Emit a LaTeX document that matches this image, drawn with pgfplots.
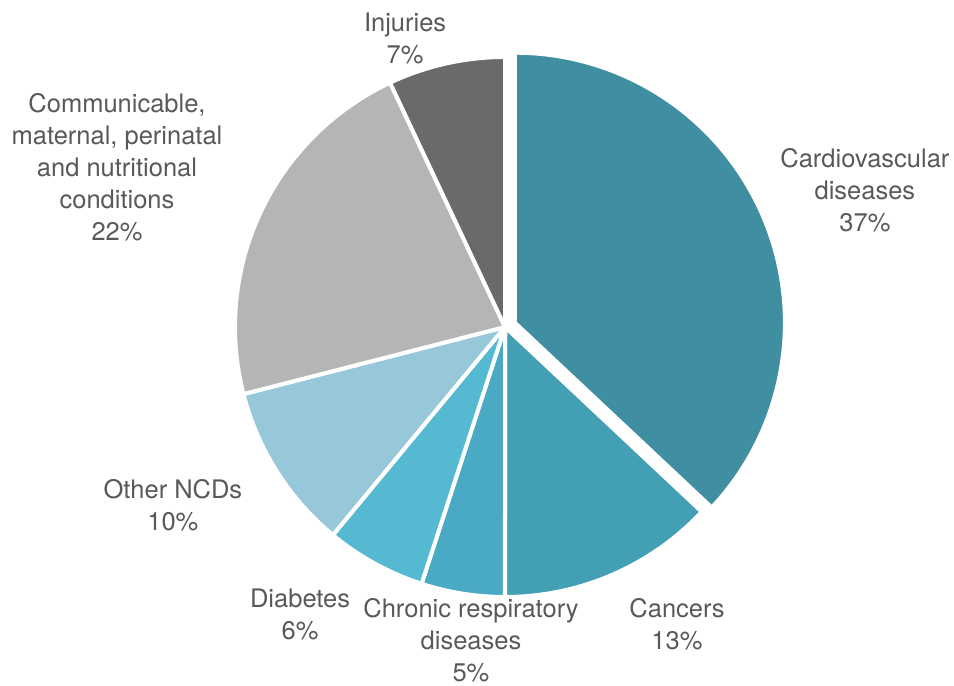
\documentclass[border=0pt]{standalone}
\usepackage{pgfplots}
\pgfplotsset{compat=1.18}
\usepackage{pgfplotstable}
\usepackage{fontspec}
\setmainfont{TeX Gyre Heros}
\definecolor{cCardio}{HTML}{408EA1}
\definecolor{cCancer}{HTML}{429FB4}
\definecolor{cChronic}{HTML}{4AAAC3}
\definecolor{cDiab}{HTML}{56B9D2}
\definecolor{cOther}{HTML}{96C8DA}
\definecolor{cComm}{HTML}{B4B5B5}
\definecolor{cInj}{HTML}{6A6A6A}
\definecolor{txt}{HTML}{595959}

\pgfplotstableread[col sep=comma]{
label,value
Cardiovascular diseases,37
Cancers,13
Chronic respiratory diseases,5
Diabetes,6
Other NCDs,10
Communicable maternal perinatal and nutritional conditions,22
Injuries,7
}\piedata

\newcommand\getval[2]{\pgfplotstablegetelem{#1}{value}\of\piedata\global\let#2\pgfplotsretval}
\tikzset{lbl/.style={font=\fontsize{25.5bp}{32bp}\selectfont, text=txt, align=center, inner sep=0pt}}

\begin{document}
\begin{tikzpicture}
\getval{0}\vA \getval{1}\vB \getval{2}\vC \getval{3}\vD
\getval{4}\vE \getval{5}\vF \getval{6}\vG
\pgfmathsetmacro\sA{90}
\pgfmathsetmacro\eA{\sA-3.6*\vA}
\pgfmathsetmacro\eB{\eA-3.6*\vB}
\pgfmathsetmacro\eC{\eB-3.6*\vC}
\pgfmathsetmacro\eD{\eC-3.6*\vD}
\pgfmathsetmacro\eE{\eD-3.6*\vE}
\pgfmathsetmacro\eF{\eE-3.6*\vF}
\pgfmathsetmacro\eG{\eF-3.6*\vG}
\pgfmathsetmacro\ox{0.04*cos((\sA+\eA)/2)}
\pgfmathsetmacro\oy{0.04*sin((\sA+\eA)/2)}
\begin{axis}[
  scale only axis, width=954bp, height=686bp,
  xmin=-1.8704, xmax=1.6630, ymin=-1.3296, ymax=1.2111,
  hide axis, clip=false,
]
\path (rel axis cs:0,0) rectangle (rel axis cs:1,1);
\addplot[fill=cCardio, draw=white, line width=4bp, domain=\eA:\sA, samples=120]
  ({\ox+cos(x)}, {\oy+sin(x)}) -- (\ox,\oy) -- cycle;
\addplot[fill=cCancer, draw=white, line width=4bp, domain=\eB:\eA, samples=60]
  ({cos(x)}, {sin(x)}) -- (0,0) -- cycle;
\addplot[fill=cChronic, draw=white, line width=4bp, domain=\eC:\eB, samples=30]
  ({cos(x)}, {sin(x)}) -- (0,0) -- cycle;
\addplot[fill=cDiab, draw=white, line width=4bp, domain=\eD:\eC, samples=30]
  ({cos(x)}, {sin(x)}) -- (0,0) -- cycle;
\addplot[fill=cOther, draw=white, line width=4bp, domain=\eE:\eD, samples=40]
  ({cos(x)}, {sin(x)}) -- (0,0) -- cycle;
\addplot[fill=cComm, draw=white, line width=4bp, domain=\eF:\eE, samples=80]
  ({cos(x)}, {sin(x)}) -- (0,0) -- cycle;
\addplot[fill=cInj, draw=white, line width=4bp, domain=\eG:\eF, samples=30]
  ({cos(x)}, {sin(x)}) -- (0,0) -- cycle;

\node[lbl] at (axis cs:1.333,0.508) {Cardiovascular\\diseases\\37\%};
\node[lbl] at (axis cs:0.637,-1.100) {Cancers\\13\%};
\node[lbl] at (axis cs:-0.126,-1.160) {Chronic respiratory\\diseases\\5\%};
\node[lbl] at (axis cs:-0.759,-1.063) {Diabetes\\6\%};
\node[lbl] at (axis cs:-1.230,-0.659) {Other NCDs\\10\%};
\node[lbl] at (axis cs:-1.437,0.593) {Communicable,\\maternal, perinatal\\and nutritional\\conditions\\22\%};
\node[lbl] at (axis cs:-0.370,1.067) {Injuries\\7\%};
\end{axis}
\end{tikzpicture}
\end{document}
